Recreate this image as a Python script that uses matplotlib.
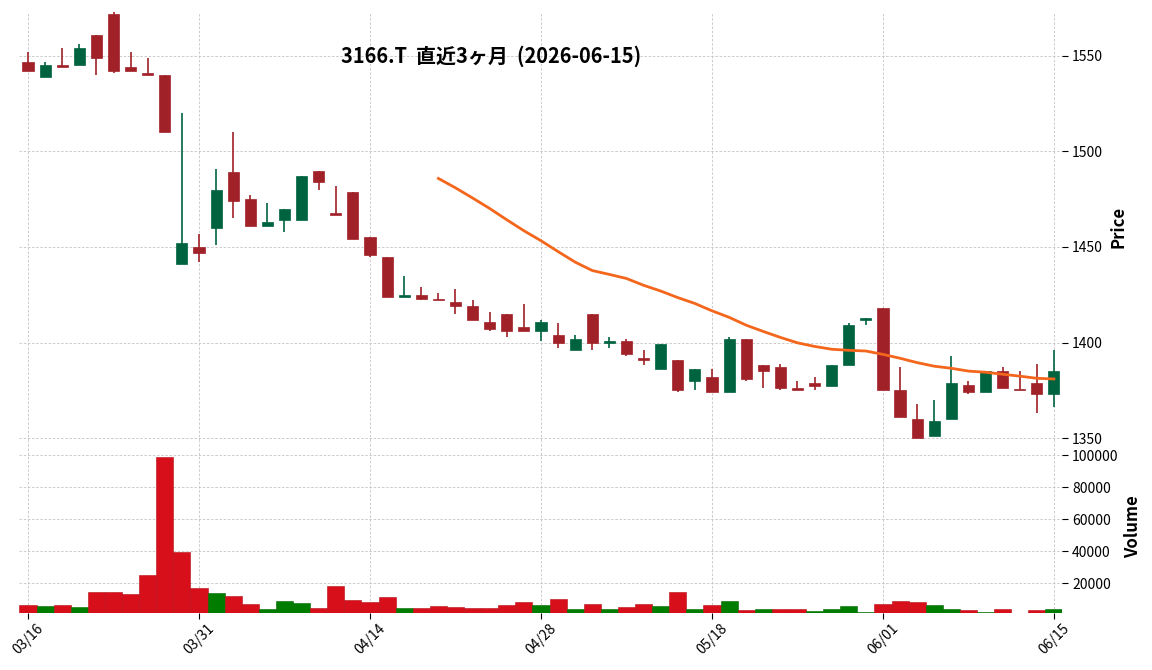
import numpy as np
import pandas as pd
import matplotlib
matplotlib.use("Agg")
import matplotlib.pyplot as plt

plt.rcParams['font.family'] = ['Noto Sans CJK JP', 'DejaVu Sans']

# ---- data ----
tick_labels = ['03/16', '03/31', '04/14', '04/28', '05/18', '06/01', '06/15']
tick_index = [0, 10, 20, 30, 40, 50, 60]

opens = [1547, 1539, 1545, 1545, 1561, 1572, 1544, 1541, 1540, 1441,
         1450, 1460, 1489, 1475, 1461, 1464, 1464, 1490, 1468, 1479,
         1455, 1445, 1424, 1425, 1423, 1421, 1419, 1411, 1415, 1408,
         1406, 1404, 1396, 1415, 1400, 1401, 1392, 1386, 1391, 1380,
         1382, 1374, 1402, 1388, 1387, 1376, 1379, 1377, 1388, 1412,
         1418, 1375, 1360, 1351, 1360, 1378, 1374, 1385, 1375.5, 1379,
         1373]
highs = [1552, 1547, 1554, 1556, 1561, 1573, 1552, 1549, 1540, 1520,
         1457, 1491, 1510, 1477, 1473, 1470, 1487, 1490, 1482, 1479,
         1455, 1445, 1435, 1429, 1426, 1428, 1422, 1416, 1415, 1420,
         1412, 1410, 1404, 1415, 1403, 1402, 1396, 1399, 1391, 1386,
         1386, 1403, 1402, 1388, 1389, 1380, 1382, 1388, 1410, 1413,
         1418, 1387, 1368, 1370, 1393, 1380, 1385, 1387, 1385, 1389,
         1396]
lows = [1542, 1539, 1544, 1545, 1540, 1541, 1542, 1540, 1510, 1441,
        1442, 1451, 1465, 1461, 1461, 1458, 1464, 1480, 1467, 1454,
        1445, 1424, 1424, 1422, 1422, 1415, 1412, 1406, 1403, 1406,
        1401, 1397, 1396, 1396, 1397, 1393, 1388, 1386, 1374, 1375,
        1374, 1374, 1380, 1376, 1375, 1375, 1375, 1377, 1388, 1409,
        1375, 1361, 1350, 1351, 1360, 1373, 1374, 1376, 1375, 1363,
        1366]
closes = [1542, 1545, 1544, 1554, 1549, 1542, 1542, 1540, 1510, 1452,
          1447, 1480, 1474, 1461, 1463, 1470, 1487, 1484, 1467, 1454,
          1446, 1424, 1425, 1423, 1422, 1419, 1412, 1407, 1406, 1406,
          1411, 1400, 1402, 1400, 1401, 1394, 1391, 1399, 1375, 1386,
          1374, 1402, 1381, 1385, 1376, 1375, 1377, 1388, 1409, 1413,
          1375, 1361, 1350, 1359, 1379, 1374, 1385, 1376, 1375, 1373,
          1385]
volumes = [6500, 5900, 6500, 5200, 14600, 14600, 13300, 25200, 98900, 39500,
           17100, 14000, 12100, 7100, 4000, 9000, 7700, 4600, 18300, 9600,
           8300, 11500, 4600, 4600, 5900, 5200, 4600, 4600, 6500, 8300,
           6500, 10200, 4000, 7100, 4000, 5200, 7100, 5900, 14600, 4000,
           6500, 9000, 3400, 4000, 4000, 4000, 2700, 4000, 5900, 2300,
           7100, 9000, 8300, 6500, 4000, 3400, 2300, 4000, 0, 3400,
           4000]
# 1 = close above previous close (green volume bar), 0 = below (red)
volume_up = [0, 1, 0, 1, 0, 0, 0, 0, 0, 0,
             0, 1, 0, 0, 1, 1, 1, 0, 0, 0,
             0, 0, 1, 0, 0, 0, 0, 0, 0, 0,
             1, 0, 1, 0, 1, 0, 0, 1, 0, 1,
             0, 1, 0, 1, 0, 0, 1, 1, 1, 1,
             0, 0, 0, 1, 1, 0, 1, 0, 0, 0,
             1]
ma_window = 25
title = '3166.T  直近3ヶ月  (2026-06-15)'

# ---- styling ----
CANDLE_UP = '#006340'
CANDLE_DN = '#a02128'
VOL_UP = '#007d00'
VOL_DN = '#d60f1b'
MA_COLOR = '#f4661b'
GRID = dict(color='#c4c4c4', linestyle=(0, (3, 2)), linewidth=0.6)

o = np.array(opens, float)
h = np.array(highs, float)
l = np.array(lows, float)
c = np.array(closes, float)
v = np.array(volumes, float)
x = np.arange(len(o))
ma = pd.Series(c).rolling(ma_window).mean()

fig = plt.figure(figsize=(11.52, 6.70), dpi=100)
ax = fig.add_axes([0.0169, 0.3422, 0.9054, 0.6399])
axv = fig.add_axes([0.0169, 0.0855, 0.9054, 0.2567], sharex=ax)

up = c >= o
ccol = np.where(up, CANDLE_UP, CANDLE_DN)
ax.vlines(x, l, h, colors=ccol, linewidth=1.2, zorder=2)
body_bottom = np.minimum(o, c)
body_h = np.maximum(np.abs(c - o), 0.6)
ax.bar(x, body_h, bottom=body_bottom, width=0.65, color=ccol,
       edgecolor=ccol, linewidth=0.5, zorder=3)
ax.plot(x, ma, color=MA_COLOR, linewidth=2.0, zorder=4)

vcol = [VOL_UP if f else VOL_DN for f in volume_up]
vedge = ['#006a00' if f else '#b80c16' for f in volume_up]
axv.bar(x, v, width=1.0, color=vcol, edgecolor=vedge, linewidth=0.4, zorder=3)

ax.set_xlim(-0.5, len(o) - 0.5)
ax.set_ylim(1348.6, 1573.0)
axv.set_ylim(1700, 108900)

for a in (ax, axv):
    for s in a.spines.values():
        s.set_visible(False)
    a.grid(True, **GRID)
    a.set_axisbelow(True)
    a.yaxis.tick_right()
    a.tick_params(axis='y', labelsize=10, length=4, width=0.8, pad=3)

ax.set_yticks([1350, 1400, 1450, 1500, 1550])
axv.set_yticks([20000, 40000, 60000, 80000, 100000])
axv.set_yticklabels(['20000', '40000', '60000', '80000', '100000'])

axv.set_xticks(tick_index)
axv.set_xticklabels(tick_labels, rotation=45, ha='center', fontsize=10)
axv.tick_params(axis='x', length=4, width=0.8, pad=2)
ax.tick_params(axis='x', labelbottom=False, length=0)

fig.text(0.9705, 0.661, 'Price', rotation=90, ha='center', va='center',
         fontsize=12, fontweight='bold')
fig.text(0.9835, 0.2134, 'Volume', rotation=90, ha='center', va='center',
         fontsize=12, fontweight='bold')
fig.text(0.426, 0.916, title, ha='center', va='center', fontsize=14.4,
         fontweight='bold')

fig.savefig('out.png', dpi=100)
